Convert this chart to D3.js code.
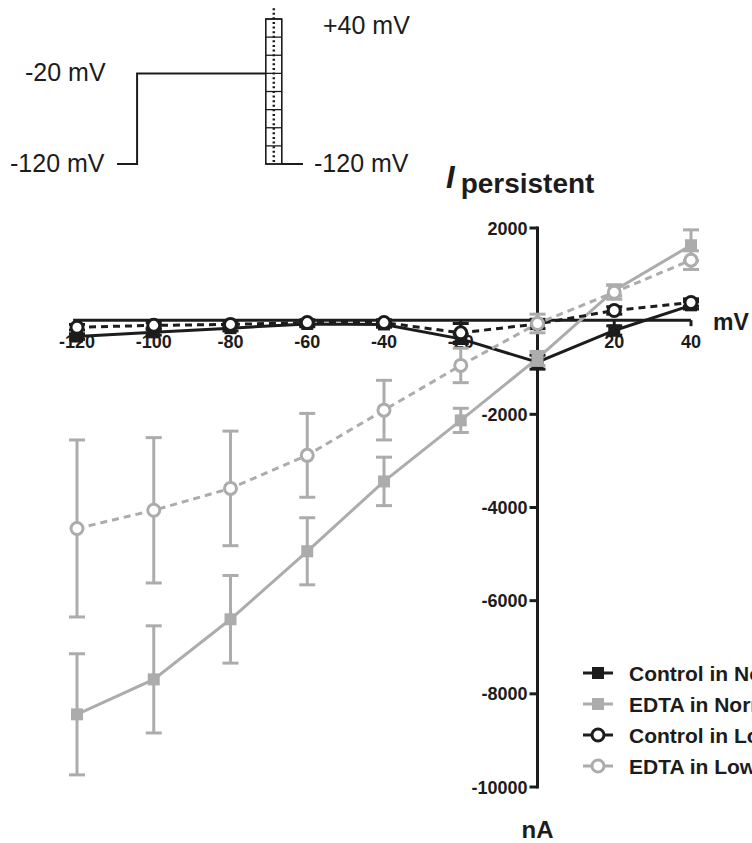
<!DOCTYPE html>
<html>
<head>
<meta charset="utf-8">
<script src="https://cdn.jsdelivr.net/npm/d3@7"></script>
<style>
  body { margin: 0; background: #fff; }
  svg { display: block; font-family: "Liberation Sans", Arial, sans-serif; }
</style>
</head>
<body>
<div id="chart"></div>
<script>
// step voltages (mV)
let volts = [-120, -100, -80, -60, -40, -20, 0, 20, 40];

// persistent current (nA) and SEM per series
let ctrlNormal    = [-330, -240, -150, -60, -70, -380, -880, -200, 340];
let ctrlNormalErr = [60, 60, 60, 60, 60, 100, 150, 100, 80];
let edtaNormal    = [-8440, -7690, -6400, -4940, -3440, -2130, -800, 660, 1630];
let edtaNormalErr = [1300, 1150, 940, 720, 520, 260, 150, 120, 330];
let ctrlLow       = [-130, -90, -70, -30, -30, -250, -60, 230, 400];
let ctrlLowErr    = [60, 60, 60, 60, 60, 200, 100, 80, 80];
let edtaLow       = [-4450, -4060, -3590, -2880, -1910, -950, -50, 620, 1310];
let edtaLowErr    = [1900, 1560, 1230, 900, 640, 370, 200, 150, 200];

let seriesNames = ["Control in Normal Ca2+", "EDTA in Normal Ca2+", "Control in Low Ca2+", "EDTA in Low Ca2+"];

let xTicks = [-120, -100, -80, -60, -40, -20, 20, 40];
let yTicks = [2000, -2000, -4000, -6000, -8000, -10000];

// protocol: holding, prepulse, test steps
let stimSteps = d3.range(-120, 41, 20);

let black = "#1c1c1c", gray = "#acacac";

let width = 752, height = 843;
let svg = d3.select("#chart").append("svg")
    .attr("width", width)
    .attr("height", height);

// ---------- stimulus protocol inset ----------
let sY = d3.scaleLinear().domain([-120, 40]).range([164, 19]);
let tX = d3.scaleLinear().domain([0, 100]).range([117, 303]);
let stim = svg.append("g");
let boxL = tX(80), boxR = tX(88.6);

stim.append("path")
    .attr("d", d3.line()([[tX(0), sY(-120)], [tX(10.8), sY(-120)], [tX(10.8), sY(-20)], [boxL, sY(-20)]]))
    .attr("fill", "none").attr("stroke", black).attr("stroke-width", 2);
stim.append("path")
    .attr("d", d3.line()([[boxR, sY(-120)], [tX(100), sY(-120)]]))
    .attr("fill", "none").attr("stroke", black).attr("stroke-width", 2);
stim.append("rect")
    .attr("x", boxL).attr("y", sY(40))
    .attr("width", boxR - boxL).attr("height", sY(-120) - sY(40))
    .attr("fill", "none").attr("stroke", black).attr("stroke-width", 1.6);
stimSteps.forEach(v => {
    stim.append("line")
        .attr("x1", boxL).attr("x2", boxR)
        .attr("y1", sY(v)).attr("y2", sY(v))
        .attr("stroke", black).attr("stroke-width", 1.3);
});
stim.append("line")
    .attr("x1", (boxL + boxR) / 2).attr("x2", (boxL + boxR) / 2)
    .attr("y1", sY(52)).attr("y2", sY(-120))
    .attr("stroke", black).attr("stroke-width", 2.5)
    .attr("stroke-dasharray", "2,2.6");

let stimText = [
    {t: "+40 mV", x: 323, y: sY(40) + 15},
    {t: "-20 mV", x: 25, y: sY(-20) + 8},
    {t: "-120 mV", x: 10, y: sY(-120) + 8},
    {t: "-120 mV", x: 314, y: sY(-120) + 8}
];
stim.selectAll("text.stim").data(stimText).enter().append("text")
    .attr("x", d => d.x).attr("y", d => d.y)
    .style("font-size", "25px").style("fill", black)
    .text(d => d.t);

// ---------- I-V plot ----------
let xScale = d3.scaleLinear().domain([-120, 40]).range([77, 691]);
let yScale = d3.scaleLinear().domain([-10000, 2000]).range([787, 228]);
let x0 = xScale(0), y0 = yScale(0) - 1;

let plot = svg.append("g");

// x axis through zero
plot.append("line")
    .attr("x1", xScale(-121)).attr("x2", xScale(40))
    .attr("y1", y0).attr("y2", y0)
    .attr("stroke", black).attr("stroke-width", 3);
xTicks.forEach(t => {
    plot.append("line")
        .attr("x1", xScale(t)).attr("x2", xScale(t))
        .attr("y1", y0).attr("y2", y0 + 6)
        .attr("stroke", black).attr("stroke-width", 3);
    plot.append("text")
        .attr("x", xScale(t)).attr("y", y0 + 28)
        .attr("text-anchor", "middle")
        .style("font-size", "18px").style("font-weight", "bold").style("fill", black)
        .text(t);
});

// y axis through zero
plot.append("line")
    .attr("x1", x0).attr("x2", x0)
    .attr("y1", yScale(2000) - 1.5).attr("y2", yScale(-10000) + 1.5)
    .attr("stroke", black).attr("stroke-width", 3);
yTicks.forEach(t => {
    plot.append("line")
        .attr("x1", x0 - 8).attr("x2", x0)
        .attr("y1", yScale(t)).attr("y2", yScale(t))
        .attr("stroke", black).attr("stroke-width", 3);
    plot.append("text")
        .attr("x", x0 - 10).attr("y", yScale(t) + 6.5)
        .attr("text-anchor", "end")
        .style("font-size", "18px").style("font-weight", "bold").style("fill", black)
        .text(t);
});

plot.append("text")
    .attr("x", 713).attr("y", y0 + 10)
    .style("font-size", "23px").style("font-weight", "bold").style("fill", black)
    .text("mV");
plot.append("text")
    .attr("x", x0).attr("y", 838)
    .attr("text-anchor", "middle")
    .style("font-size", "24px").style("font-weight", "bold").style("fill", black)
    .text("nA");

let title = plot.append("text")
    .attr("x", 446).attr("y", 188)
    .style("font-weight", "bold").style("fill", black);
title.append("tspan").style("font-size", "31px").style("font-style", "italic").text("I");
title.append("tspan").attr("dy", 5).attr("dx", 6).style("font-size", "28px").text("persistent");

// ---------- series ----------
let series = [
    {name: seriesNames[0], vals: ctrlNormal, err: ctrlNormalErr, color: black, dash: null, shape: "square"},
    {name: seriesNames[1], vals: edtaNormal, err: edtaNormalErr, color: gray, dash: null, shape: "square"},
    {name: seriesNames[2], vals: ctrlLow, err: ctrlLowErr, color: black, dash: "7,5", shape: "circle"},
    {name: seriesNames[3], vals: edtaLow, err: edtaLowErr, color: gray, dash: "7,5", shape: "circle"}
];

let line = d3.line().x(d => xScale(d.v)).y(d => yScale(d.i));

function drawMarker(g, shape, color, cx, cy) {
    if (shape === "square") {
        g.append("rect")
            .attr("x", cx - 6).attr("y", cy - 6)
            .attr("width", 12).attr("height", 12)
            .attr("fill", color);
    } else {
        g.append("circle")
            .attr("cx", cx).attr("cy", cy).attr("r", 6)
            .attr("fill", "#fff").attr("stroke", color).attr("stroke-width", 3);
    }
}

series.forEach(s => {
    let pts = volts.map((v, k) => ({v: v, i: s.vals[k], e: s.err[k]}));
    let g = plot.append("g");
    pts.forEach(p => {
        let cx = xScale(p.v);
        let top = yScale(p.i + p.e), bot = yScale(p.i - p.e);
        g.append("line").attr("x1", cx).attr("x2", cx).attr("y1", top).attr("y2", bot)
            .attr("stroke", s.color).attr("stroke-width", 3);
        [top, bot].forEach(yy => {
            g.append("line").attr("x1", cx - 8).attr("x2", cx + 8).attr("y1", yy).attr("y2", yy)
                .attr("stroke", s.color).attr("stroke-width", 3);
        });
    });
    g.append("path")
        .datum(pts)
        .attr("d", line)
        .attr("fill", "none")
        .attr("stroke", s.color)
        .attr("stroke-width", 3)
        .attr("stroke-dasharray", s.dash);
    pts.forEach(p => drawMarker(g, s.shape, s.color, xScale(p.v), yScale(p.i)));
});

// ---------- legend ----------
let legend = plot.append("g").attr("transform", "translate(583,673)");
series.forEach((s, k) => {
    let row = legend.append("g").attr("transform", "translate(0," + (k * 31) + ")");
    row.append("line").attr("x1", 0).attr("x2", 30).attr("y1", 0).attr("y2", 0)
        .attr("stroke", s.color).attr("stroke-width", 3);
    drawMarker(row, s.shape, s.color, 15, 0);
    row.append("text")
        .attr("x", 46).attr("y", 8)
        .style("font-size", "21px").style("font-weight", "bold").style("fill", black)
        .text(s.name);
});
</script>
</body>
</html>
